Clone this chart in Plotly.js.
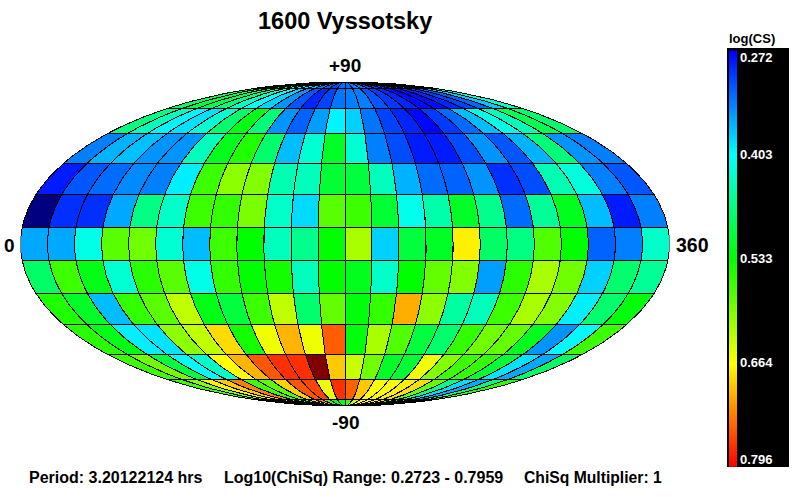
<!DOCTYPE html>
<html><head><meta charset="utf-8">
<script src="https://cdn.plot.ly/plotly-3.0.1.min.js"></script>
<style>html,body{margin:0;padding:0;background:#fff}#c{width:794px;height:497px}
#c .scatterlayer path{shape-rendering:crispEdges}</style>
</head><body><div id="c"></div>
<script>
var latEdges=[90,82.5,67.5,52.5,37.5,22.5,7.5,-7.5,-22.5,-37.5,-52.5,-67.5,-82.5,-90];
var lonEdges=[0,15,30,45,60,75,90,105,120,135,150,165,180,195,210,225,240,255,270,285,300,315,330,345,360];
var band0 =[.472,.472,.493,.478,.437,.406,.390,.370,.339,.324,.313,.329,.329,.339,.334,.318,.308,.303,.308,.318,.339,.349,.375,.421];
var band1 =[.483,.503,.493,.472,.431,.403,.380,.349,.318,.293,.308,.334,.339,.339,.318,.303,.293,.280,.280,.293,.308,.324,.375,.431];
var band2 =[.467,.437,.398,.388,.426,.478,.524,.472,.349,.324,.354,.398,.380,.334,.308,.293,.277,.303,.329,.370,.416,.437,.493,.478];
var band3 =[.339,.365,.372,.349,.349,.437,.519,.550,.478,.370,.426,.514,.426,.339,.313,.288,.288,.313,.349,.318,.365,.472,.349,.339];
var band4 =[.288,.318,.329,.344,.339,.395,.565,.606,.601,.442,.437,.508,.503,.437,.365,.329,.324,.349,.298,.313,.442,.421,.339,.318];
var band5 =[.2723,.298,.298,.360,.467,.431,.565,.560,.596,.431,.385,.580,.565,.508,.413,.447,.514,.462,.329,.457,.519,.370,.288,.339];
var band6 =[.360,.360,.416,.580,.591,.426,.370,.565,.534,.437,.462,.534,.621,.380,.503,.514,.673,.483,.467,.575,.534,.324,.339,.431];
var band7 =[.483,.565,.524,.426,.555,.580,.416,.560,.534,.544,.437,.534,.519,.431,.534,.585,.601,.354,.555,.621,.591,.380,.478,.457];
var band8 =[.550,.514,.370,.560,.580,.632,.524,.503,.565,.632,.478,.585,.529,.560,.706,.606,.452,.437,.565,.621,.601,.395,.478,.529];
var band9 =[.555,.524,.395,.390,.606,.632,.683,.544,.657,.703,.657,.747,.529,.621,.575,.503,.478,.560,.591,.585,.519,.349,.401,.565];
var band10=[.565,.591,.503,.401,.431,.665,.703,.750,.770,.770,.7959,.693,.637,.591,.514,.508,.657,.601,.565,.560,.508,.390,.360,.483];
var band11=[.565,.601,.673,.693,.729,.565,.580,.688,.750,.760,.655,.770,.745,.693,.665,.662,.673,.683,.585,.467,.385,.360,.472,.555];
var band12=[.585,.621,.665,.683,.703,.565,.565,.683,.734,.560,.503,.519,.565,.637,.665,.665,.673,.683,.565,.467,.385,.370,.472,.555];
var bands=[band0,band1,band2,band3,band4,band5,band6,band7,band8,band9,band10,band11,band12];
var barTicks=[0.272,0.403,0.533,0.664,0.796];
var barLevels=[.2723,.4032,.5341,.665,.7959];
var vMin=.2723,vMax=.7959;
var colorStops=[[0,[0,0,128]],[.004,[0,0,255]],[.25,[0,255,255]],[.5,[0,255,0]],[.75,[255,255,0]],[.996,[255,0,0]],[1,[128,0,0]]];
var plotlyScale=colorStops.map(function(s){return [s[0],'rgb('+s[1].join(',')+')'];});

function colorOf(v){
  var t=Math.max(0,Math.min(1,(v-vMin)/(vMax-vMin)));
  for(var i=1;i<colorStops.length;i++){
    if(t<=colorStops[i][0]){
      var a=colorStops[i-1],b=colorStops[i],f=(t-a[0])/(b[0]-a[0]);
      return 'rgb('+[0,1,2].map(function(k){return Math.round(a[1][k]+f*(b[1][k]-a[1][k]));}).join(',')+')';
    }
  }
  return 'rgb(128,0,0)';
}
// Mollweide projection, x in [-2,2], y in [-1,1]
function project(lon,lat){
  var phi=lat*Math.PI/180,lam=(lon-180)*Math.PI/180,th=phi;
  if(Math.abs(lat)>=90){th=phi;}
  else{for(var i=0;i<60;i++){
    var d=(2*th+Math.sin(2*th)-Math.PI*Math.sin(phi))/(2+2*Math.cos(2*th)+1e-12);
    th-=d;if(Math.abs(d)<1e-9)break;}}
  return [2*lam/Math.PI*Math.cos(th),Math.sin(th)];
}
var traces=[];
bands.forEach(function(vals,r){
  vals.forEach(function(v,c){
    var top=latEdges[r],bot=latEdges[r+1],l=lonEdges[c],rr=lonEdges[c+1],xs=[],ys=[],n=12,i,p;
    for(i=0;i<=n;i++){p=project(l,top+(bot-top)*i/n);xs.push(p[0]);ys.push(p[1]);}
    for(i=n;i>=0;i--){p=project(rr,top+(bot-top)*i/n);xs.push(p[0]);ys.push(p[1]);}
    xs.push(xs[0]);ys.push(ys[0]);
    traces.push({type:'scatter',mode:'lines',x:xs,y:ys,fill:'toself',fillcolor:colorOf(v),
      line:{color:'#000',width:1},hoverinfo:'skip',showlegend:false,xaxis:'x',yaxis:'y'});
  });
});
traces.push({type:'heatmap',x:[0,1],y:barLevels,z:barLevels.map(function(v){return [v,v];}),
  zmin:vMin,zmax:vMax,colorscale:plotlyScale,zsmooth:'best',showscale:false,hoverinfo:'skip',xaxis:'x2',yaxis:'y2'});

var W=794,H=497,F='"Liberation Sans",Arial,sans-serif';
function txt(t,px,py,size,color,anchor,bold){
  return {text:bold===false?t:'<b>'+t+'</b>',x:px/W,y:1-py/H,xref:'paper',yref:'paper',xanchor:anchor||'center',yanchor:'middle',
    showarrow:false,font:{family:F,size:size,color:color||'#000'},borderpad:0,borderwidth:0};
}
var barLabelY=[58,155,258,362,459];
var ann=[
  txt('1600 Vyssotsky',345,21,23.5),
  txt('+90',345,66,19),txt('-90',345,422,19),
  txt('0',9,245,19),txt('360',692,245,19.5),
  txt('Period: 3.20122124 hrs',29,477,16,'#000','left'),
  txt('Log10(ChiSq) Range: 0.2723 - 0.7959',224,477,16,'#000','left'),
  txt('ChiSq Multiplier: 1',524,477,15.7,'#000','left'),
  txt('log(CS)',752,39,13)
];
barTicks.forEach(function(t,i){ann.push(txt(t.toFixed(3),740,barLabelY[i],13,'#fff','left'));});
var layout={width:W,height:H,margin:{l:0,r:0,t:0,b:0},paper_bgcolor:'#fff',plot_bgcolor:'rgba(0,0,0,0)',showlegend:false,
  xaxis:{domain:[20.5/W,669.5/W],range:[-2,2],visible:false,fixedrange:true},
  yaxis:{domain:[1-406/H,1-82/H],range:[-1,1],visible:false,fixedrange:true},
  xaxis2:{domain:[729/W,737/W],range:[0,1],visible:false,fixedrange:true,anchor:'y2'},
  yaxis2:{domain:[1-467/H,1-50/H],range:[vMax,vMin],visible:false,fixedrange:true,anchor:'x2'},
  shapes:[{type:'rect',xref:'paper',yref:'paper',x0:727/W,x1:789/W,y0:1-467/H,y1:1-48/H,fillcolor:'#000',line:{width:0},layer:'below'}],
  annotations:ann};
Plotly.newPlot('c',traces,layout,{displayModeBar:false,staticPlot:true});
</script></body></html>
